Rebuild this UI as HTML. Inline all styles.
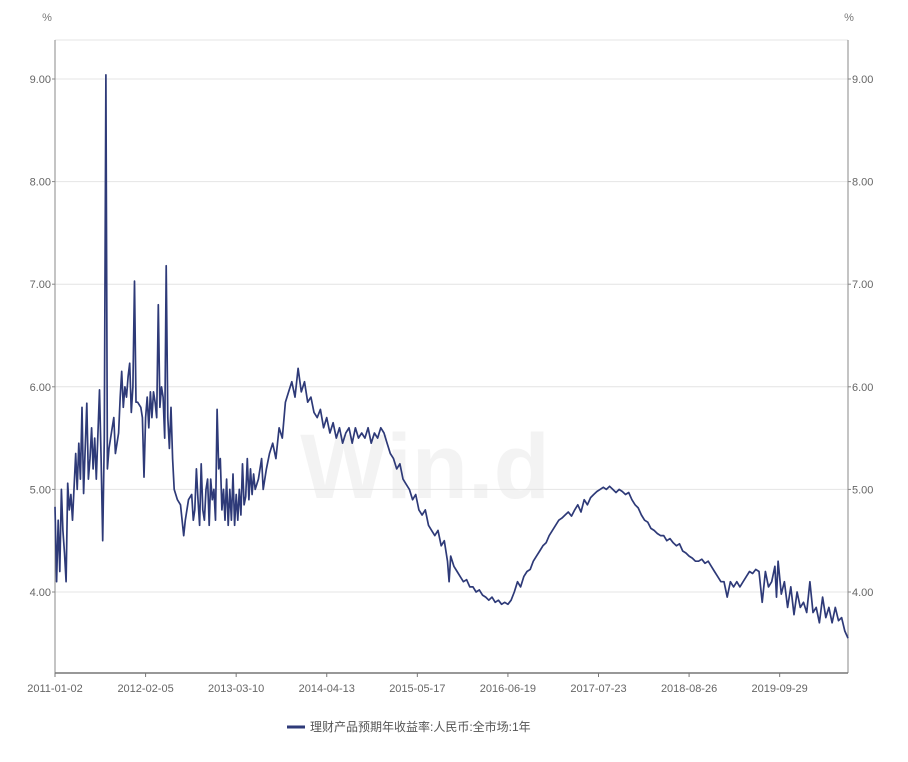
<!DOCTYPE html>
<html><head><meta charset="utf-8"><style>
body{margin:0;background:#fff;width:908px;height:757px;overflow:hidden;font-family:"Liberation Sans","Noto Sans CJK SC",sans-serif}
</style></head><body>
<svg id="chart" width="908" height="757" viewBox="0 0 908 757" xmlns="http://www.w3.org/2000/svg"></svg>
<script>
const weeks=[0,1,2,3,4,5,6,7,8,9,10,11,13,14,15,16,17,18,19,20,21,22,23,24,25,26,28,29,30,31,32,33,34,36,37,38,40,41,42,43,44,45,46,47,48,49,50,51,52,54,55,56,57,58,59,60,61,62,63,64,65,66,67,68,69,70,71,72,73,74,75,77,79,81,82,84,86,87,88,89,90,91,92,93,94,95,96,97,98,99,100,101,102,103,104,105,106,107,108,109,110,111,112,113,114,115,116,117,118,119,120,121,122,123,124,125,126,128,130,131,133,135,137,139,141,143,145,147,149,151,153,155,157,159,161,163,165,167,169,171,173,175,177,179,181,183,185,187,189,191,193,195,197,199,201,203,205,207,209,211,213,215,217,219,221,223,225,227,229,231,233,235,237,239,241,243,245,247,248,249,251,253,255,257,259,261,263,265,267,269,271,273,275,277,279,281,283,285,287,289,291,293,295,297,299,301,303,305,307,309,311,313,315,317,319,321,323,325,327,329,331,333,335,337,339,341,343,345,347,349,351,353,355,357,359,361,363,365,367,369,371,373,375,377,379,381,383,385,387,389,391,393,395,397,399,401,403,405,407,409,411,413,415,417,419,421,423,425,427,429,431,433,435,437,439,441,443,445,447,449,451,453,454,455,457,459,461,463,465,467,469,471,473,475,477,479,481,483,485,487,489,491,493,495,497,499];
const values=[4.83,4.1,4.7,4.2,5.0,4.6,4.38,4.1,5.06,4.8,4.95,4.7,5.35,5.0,5.45,5.1,5.8,4.96,5.4,5.84,5.1,5.3,5.6,5.2,5.5,5.1,5.97,5.3,4.5,5.5,9.04,5.2,5.4,5.6,5.7,5.35,5.55,5.9,6.15,5.8,6.0,5.9,6.1,6.23,5.75,6.0,7.03,5.85,5.85,5.8,5.7,5.12,5.7,5.9,5.6,5.95,5.7,5.95,5.85,5.7,6.8,5.8,6.0,5.9,5.5,7.18,5.7,5.4,5.8,5.3,5.0,4.9,4.85,4.55,4.7,4.9,4.95,4.7,4.8,5.2,4.9,4.65,5.25,4.8,4.7,5.0,5.1,4.65,5.1,4.9,5.0,4.7,5.78,5.2,5.3,4.8,5.0,4.7,5.1,4.65,5.0,4.7,5.15,4.65,4.95,4.7,5.0,4.75,5.25,4.85,4.93,5.3,4.9,5.2,4.95,5.15,5.0,5.1,5.3,5.0,5.2,5.35,5.45,5.3,5.6,5.5,5.85,5.95,6.05,5.9,6.18,5.95,6.05,5.85,5.9,5.75,5.7,5.78,5.6,5.7,5.55,5.65,5.5,5.6,5.45,5.55,5.6,5.45,5.6,5.5,5.55,5.5,5.6,5.45,5.55,5.5,5.6,5.55,5.45,5.35,5.3,5.2,5.25,5.1,5.05,5.0,4.9,4.95,4.8,4.75,4.8,4.65,4.6,4.55,4.6,4.45,4.5,4.3,4.1,4.35,4.25,4.2,4.15,4.1,4.12,4.05,4.05,4.0,4.02,3.97,3.95,3.92,3.95,3.9,3.92,3.88,3.9,3.88,3.92,4.0,4.1,4.05,4.15,4.2,4.22,4.3,4.35,4.4,4.45,4.48,4.55,4.6,4.65,4.7,4.72,4.75,4.78,4.74,4.8,4.85,4.78,4.9,4.85,4.92,4.95,4.98,5.0,5.02,5.0,5.03,5.0,4.97,5.0,4.98,4.95,4.97,4.9,4.85,4.82,4.75,4.7,4.68,4.62,4.6,4.57,4.55,4.55,4.5,4.52,4.48,4.45,4.47,4.4,4.38,4.35,4.33,4.3,4.3,4.32,4.28,4.3,4.25,4.2,4.15,4.1,4.1,3.95,4.1,4.05,4.1,4.05,4.1,4.15,4.2,4.18,4.22,4.2,3.9,4.2,4.05,4.1,4.25,3.95,4.3,3.98,4.1,3.85,4.05,3.78,4.0,3.85,3.9,3.8,4.1,3.8,3.85,3.7,3.95,3.75,3.85,3.7,3.85,3.72,3.75,3.62,3.55];
const yTicks=[4,5,6,7,8,9];
const xTickLabels=["2011-01-02","2012-02-05","2013-03-10","2014-04-13","2015-05-17","2016-06-19","2017-07-23","2018-08-26","2019-09-29"];
const xTickWeeks=[0,57,114,171,228,285,342,399,456];
const seriesName="理财产品预期年收益率:人民币:全市场:1年";

const L=55,R=848,T=40,B=673,W0=0,W1=499;
const xs=w=>L+(w-W0)/(W1-W0)*(R-L);
const ys=v=>79+(9-v)*102.6;
const svg=document.getElementById('chart');
const NS="http://www.w3.org/2000/svg";
function mk(tag,attrs,txt){const e=document.createElementNS(NS,tag);for(const k in attrs)e.setAttribute(k,attrs[k]);if(txt!==undefined)e.textContent=txt;svg.appendChild(e);return e;}

let e;
e=mk('text',{x:425,y:498,'text-anchor':'middle','font-size':92,'font-weight':'bold',fill:'#f3f3f3'},'Win.d');


e=mk('line',{x1:L,x2:R,y1:T,y2:T,stroke:'#e6e6e6'});


yTicks.forEach(v=>{
  const y=ys(v);
  let g=mk('line',{x1:L,x2:R,y1:y,y2:y,stroke:'#e4e4e4'});
  
  
  let t=mk('text',{x:L-4,y:y+4,'text-anchor':'end','font-size':11,fill:'#666'},v.toFixed(2));
  
  
  let t2=mk('text',{x:R+4,y:y+4,'text-anchor':'start','font-size':11,fill:'#666'},v.toFixed(2));
  
  
  let k1=mk('line',{x1:L-3,x2:L,y1:y,y2:y,stroke:'#888'});
  
  
  let k2=mk('line',{x1:R,x2:R+3,y1:y,y2:y,stroke:'#888'});
  
  
});
e=mk('text',{x:47,y:21,'text-anchor':'middle','font-size':11,fill:'#777'},'%');


e=mk('text',{x:849,y:21,'text-anchor':'middle','font-size':11,fill:'#777'},'%');


e=mk('line',{x1:L,x2:L,y1:T,y2:B,stroke:'#888'});


e=mk('line',{x1:R,x2:R,y1:T,y2:B,stroke:'#888'});


e=mk('line',{x1:L,x2:R,y1:B,y2:B,stroke:'#777','stroke-width':1.5});


xTickWeeks.forEach((w,i)=>{
  const x=xs(w);
  let k=mk('line',{x1:x,x2:x,y1:B,y2:B+4,stroke:'#777'});
  
  
  let t=mk('text',{x:x,y:692,'text-anchor':'middle','font-size':11,fill:'#666'},xTickLabels[i]);
  
  
});
const d=weeks.map((w,i)=>(i?'L':'M')+xs(w).toFixed(1)+','+ys(values[i]).toFixed(1)).join('');
e=mk('path',{d:d,fill:'none',stroke:'#2e3a78','stroke-width':1.7,'stroke-linejoin':'round'});


e=mk('line',{x1:287,x2:305,y1:727,y2:727,stroke:'#2e3a78','stroke-width':3});


e=mk('text',{x:310,y:731,'font-size':12,fill:'#555'},seriesName);


</script>
</body></html>
